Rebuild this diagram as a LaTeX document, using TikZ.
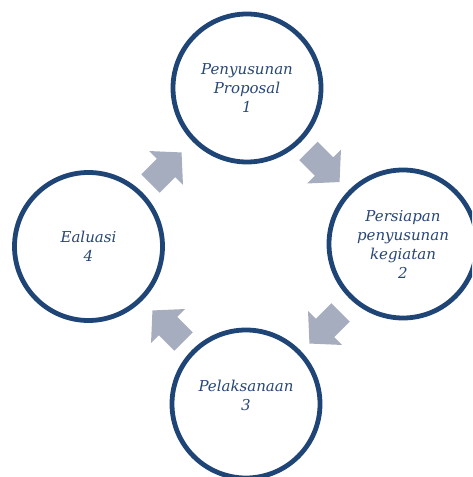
\documentclass[tikz,border=0pt]{standalone}
\usepackage{fontspec}
\usetikzlibrary{calc}
\setmainfont{DejaVu Serif}
\definecolor{ringblue}{RGB}{31,68,118}
\definecolor{textblue}{RGB}{40,70,118}
\definecolor{arrowgray}{RGB}{166,173,190}
\tikzset{
  ring/.style={circle, draw=ringblue, line width=4.8pt, fill=white,
    minimum size=148pt, inner sep=0pt, text=textblue, align=center,
    font=\itshape\fontsize{15}{19}\selectfont},
  ringtext/.style={text=textblue, align=center,
    font=\itshape\fontsize{15}{19}\selectfont},
  blockarrow/.pic={
    \fill[arrowgray] (-22,-13) -- (0,-13) -- (0,-24) -- (22,0)
      -- (0,24) -- (0,13) -- (-22,13) -- cycle;
  }
}
\begin{document}
\begin{tikzpicture}[x=1pt,y=1pt]
\useasboundingbox (0,0) rectangle (472,477);
\clip (0,0) rectangle (472,477);
% arrows
\pic[rotate=45] (a1) at (166,309) {blockarrow};
\pic[rotate=-45] (a2) at (324,310.5) {blockarrow};
\pic[rotate=-135] (a3) at (325,149) {blockarrow};
\pic[rotate=135] (a4) at (168,151) {blockarrow};
% rings
\node[ring] (p1) at (247,389) {Penyusunan\\Proposal\\1};
\node[ring] (p2) at (403,233) {Persiapan\\penyusunan\\kegiatan\\2};
\node[ring] (p3) at (246,73) {};
\node[ringtext] (t3) at ($(p3.center)+(0,9)$) {Pelaksanaan\\3};
\node[ring] (p4) at (88.5,230.5) {Ealuasi\\4};
\end{tikzpicture}
\end{document}
